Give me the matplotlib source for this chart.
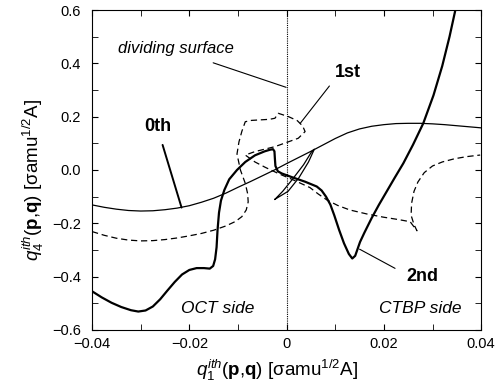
import matplotlib
matplotlib.use("Agg")
import matplotlib.pyplot as plt
from matplotlib.ticker import MultipleLocator, FixedLocator

plt.rcParams['font.family'] = ['Liberation Sans', 'DejaVu Sans']
plt.rcParams['mathtext.fontset'] = 'custom'
plt.rcParams['mathtext.rm'] = 'Liberation Sans'
plt.rcParams['mathtext.it'] = 'Liberation Sans:italic'
plt.rcParams['mathtext.bf'] = 'Liberation Sans:bold'

# dividing surface (thin solid)
ds_x = [-0.04, -0.0375, -0.035, -0.0325, -0.03, -0.0275, -0.025, -0.0225, -0.02,
        -0.0175, -0.015, -0.0125, -0.01, -0.0075, -0.005, -0.0025, 0.0, 0.0025,
        0.005, 0.0075, 0.01, 0.0125, 0.015, 0.0175, 0.02, 0.0225, 0.025, 0.0275,
        0.03, 0.0325, 0.035, 0.0375, 0.04]
ds_y = [-0.131, -0.14, -0.147, -0.152, -0.154, -0.153, -0.149, -0.143, -0.134,
        -0.121, -0.106, -0.087, -0.065, -0.044, -0.022, 0.0, 0.024, 0.047,
        0.07, 0.094, 0.118, 0.139, 0.154, 0.164, 0.17, 0.174, 0.175, 0.175,
        0.173, 0.17, 0.166, 0.162, 0.158]

# 1st order (dashed)
q1_x = [-0.04, -0.0375, -0.035, -0.0325, -0.03, -0.0275, -0.025, -0.0225, -0.02,
        -0.0175, -0.015, -0.0125, -0.0105, -0.0092, -0.0083, -0.0079, -0.008, -0.0085,
        -0.0095, -0.0102, -0.0098, -0.0092, -0.0085, -0.0072, -0.0058, -0.0035,
        -0.0024, -0.0017, 0.0004, 0.0022, 0.0033, 0.0038, 0.0024, -0.0024, -0.0065,
        -0.0085, -0.0065, -0.0044, -0.0015, 0.0011, 0.0048, 0.0065, 0.0083, 0.0105,
        0.013, 0.0165, 0.0199, 0.023, 0.0254, 0.0268, 0.0262, 0.0256, 0.0257, 0.0262,
        0.027, 0.0283, 0.03, 0.032, 0.0345, 0.037, 0.0398]
q1_y = [-0.231, -0.245, -0.256, -0.263, -0.266, -0.265, -0.261, -0.255, -0.247,
        -0.238, -0.226, -0.21, -0.193, -0.175, -0.15, -0.12, -0.09, -0.05,
        0.0, 0.06, 0.105, 0.145, 0.181, 0.186, 0.1875, 0.19,
        0.194, 0.2125, 0.2, 0.185, 0.165, 0.144, 0.119, 0.0875, 0.069,
        0.056, 0.03, 0.01, -0.015, -0.035, -0.066, -0.09, -0.1125, -0.133,
        -0.15, -0.165, -0.177, -0.186, -0.194, -0.228, -0.205, -0.17, -0.125, -0.08,
        -0.045, -0.01, 0.015, 0.03, 0.042, 0.05, 0.056]

# 0th / 2nd order (thick solid)
q2_x = [-0.04, -0.038, -0.036, -0.034, -0.032, -0.0305, -0.029, -0.0275, -0.026,
        -0.0245, -0.023, -0.0215, -0.02, -0.0185, -0.017, -0.0158, -0.0151, -0.0147,
        -0.0144, -0.0142, -0.0139, -0.0135, -0.0128, -0.0118, -0.0102, -0.0085,
        -0.0065, -0.0045, -0.0034, -0.0028, -0.0025, -0.0024, -0.0023, -0.0018,
        -0.001, 0.0011, 0.0038, 0.0062, 0.0072, 0.0081, 0.009, 0.0098, 0.0108,
        0.0118, 0.0128, 0.0135, 0.0141, 0.0146, 0.0151, 0.016, 0.0175, 0.019,
        0.0206, 0.0222, 0.024, 0.026, 0.0281, 0.0302, 0.032, 0.0335, 0.0347]
q2_y = [-0.455, -0.478, -0.498, -0.514, -0.526, -0.531, -0.527, -0.512, -0.485,
        -0.452, -0.42, -0.392, -0.375, -0.368, -0.368, -0.37, -0.36, -0.335,
        -0.29, -0.225, -0.16, -0.115, -0.075, -0.035, 0.0, 0.03,
        0.055, 0.07, 0.076, 0.078, 0.07, 0.04, 0.015, -0.005,
        -0.013, -0.027, -0.044, -0.062, -0.077, -0.1, -0.13, -0.17, -0.225,
        -0.275, -0.315, -0.332, -0.322, -0.296, -0.27, -0.235, -0.18, -0.13,
        -0.08, -0.03, 0.025, 0.095, 0.175, 0.28, 0.39, 0.5, 0.6]

# small loop near the origin
loop_x = [-0.0024, 0.0003, 0.0025, 0.0045, 0.0057, 0.0052, 0.0035, 0.0012, -0.0008, -0.0024]
loop_y = [-0.11, -0.08, -0.03, 0.03, 0.078, 0.07, 0.02, -0.035, -0.08, -0.11]

fig = plt.figure(figsize=(4.95, 3.85), dpi=100)
ax = fig.add_axes([0.186, 0.143, 0.786, 0.831])

ax.axvline(0, color='black', lw=0.8, linestyle=(0, (1, 1)))
ax.plot(ds_x, ds_y, color='black', lw=0.9)
ax.plot(q1_x, q1_y, color='black', lw=0.9, linestyle=(0, (5, 3)))
ax.plot(q2_x, q2_y, color='black', lw=1.6)
ax.plot(loop_x, loop_y, color='black', lw=0.9)

ax.set_xlim(-0.04, 0.04)
ax.set_ylim(-0.6, 0.6)
ax.xaxis.set_major_locator(FixedLocator([-0.04, -0.02, 0, 0.02, 0.04]))
ax.set_xticklabels(['\u22120.04', '\u22120.02', '0', '0.02', '0.04'])
ax.xaxis.set_minor_locator(MultipleLocator(0.01))
ax.yaxis.set_major_locator(FixedLocator([-0.6, -0.4, -0.2, 0.0, 0.2, 0.4, 0.6]))
ax.set_yticklabels(['\u22120.6', '\u22120.4', '\u22120.2', '0.0', '0.2', '0.4', '0.6'])
ax.yaxis.set_minor_locator(MultipleLocator(0.1))
ax.tick_params(which='both', direction='in', top=True, right=True, labelsize=10.5)
ax.tick_params(axis='y', pad=8)
ax.tick_params(axis='x', pad=5)
ax.tick_params(which='major', length=4)
ax.tick_params(which='minor', length=4)

ax.set_xlabel(r'$q_1^{ith}$($\mathbf{p}$,$\mathbf{q}$) [σamu$^{1/2}$A]', fontsize=13.5)
ax.set_ylabel(r'$q_4^{ith}$($\mathbf{p}$,$\mathbf{q}$) [σamu$^{1/2}$A]', fontsize=13.5)
ax.xaxis.set_label_coords(0.475, -0.087)
ax.yaxis.set_label_coords(-0.118, 0.47)

# labels and pointers
ax.text(-0.0227, 0.454, 'dividing surface', style='italic', fontsize=12, ha='center', va='center')
ax.annotate('', xy=(-0.0001, 0.31), xytext=(-0.0151, 0.402),
            arrowprops=dict(arrowstyle='-', lw=0.8, shrinkA=0, shrinkB=0))
ax.text(0.0125, 0.365, '1st', fontweight='bold', fontsize=13, ha='center', va='center')
ax.annotate('', xy=(0.0028, 0.175), xytext=(0.0088, 0.315),
            arrowprops=dict(arrowstyle='-', lw=0.8, shrinkA=0, shrinkB=0))
ax.text(-0.0265, 0.162, '0th', fontweight='bold', fontsize=13, ha='center', va='center')
ax.annotate('', xy=(-0.0216, -0.141), xytext=(-0.0255, 0.094),
            arrowprops=dict(arrowstyle='-', lw=1.4, shrinkA=0, shrinkB=0))
ax.text(0.028, -0.4, '2nd', fontweight='bold', fontsize=13, ha='center', va='center')
ax.annotate('', xy=(0.015, -0.297), xytext=(0.0223, -0.369),
            arrowprops=dict(arrowstyle='-', lw=0.8, shrinkA=0, shrinkB=0))
ax.text(-0.0142, -0.52, 'OCT side', style='italic', fontsize=12.5, ha='center', va='center')
ax.text(0.0275, -0.519, 'CTBP side', style='italic', fontsize=12.5, ha='center', va='center')

fig.savefig('out.png', dpi=100)
